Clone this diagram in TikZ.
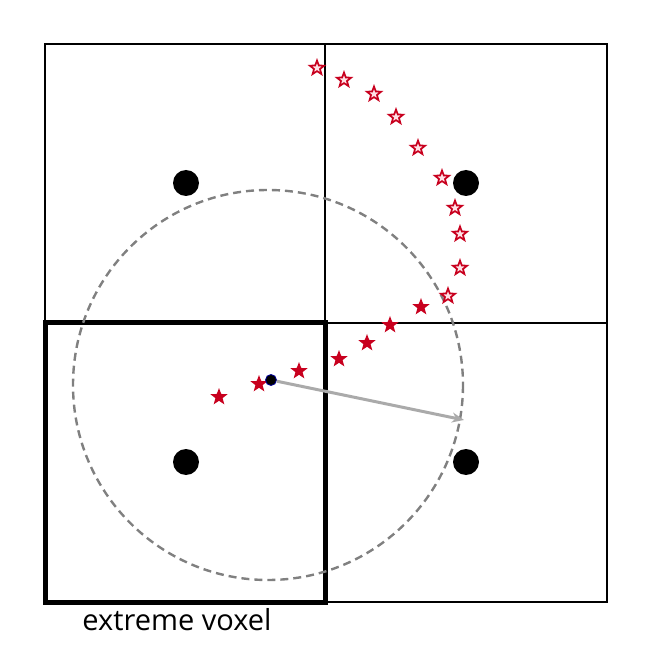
\documentclass[tikz,border=0pt]{standalone}
\usepackage{fontspec}
\setmainfont{Open Sans}
\usetikzlibrary{shapes.geometric,arrows.meta}
\definecolor{starred}{RGB}{200,0,30}
\definecolor{starpink}{RGB}{255,225,230}
\definecolor{dashgray}{RGB}{128,128,128}
\definecolor{arrowgray}{RGB}{170,170,170}
\tikzset{
  gridline/.style={line width=2pt, black},
  thickbox/.style={line width=5pt, black, line join=miter},
  bigdot/.style={circle, fill=black, inner sep=0pt, minimum size=26pt},
  hollowstar/.style={star, star points=5, star point ratio=2.4, draw=starred, fill=starpink, line width=1.7pt, inner sep=0pt, minimum size=15pt},
  fullstar/.style={star, star points=5, star point ratio=2.4, fill=starred, inner sep=0pt, minimum size=18pt},
  rangecircle/.style={dash pattern=on 8pt off 5pt, line width=2.4pt, dashgray},
  vecarrow/.style={line width=3pt, arrowgray, -{Stealth[length=12pt,width=10pt]}}
}
\begin{document}
\begin{tikzpicture}[x=1pt,y=-1pt]
\useasboundingbox (0,0) rectangle (657,650);
% grid
\draw[gridline] (45,44) rectangle (607,602);
\draw[gridline] (325,44) -- (325,602);
\draw[gridline] (45,323) -- (607,323);
\draw[thickbox] (45,323) rectangle (325,602);
% dots
\node[bigdot] (d1) at (186,183) {};
\node[bigdot] (d2) at (466,183) {};
\node[bigdot] (d3) at (186,462) {};
\node[bigdot] (d4) at (466,462) {};
% circle
\draw[rangecircle] (268,385) circle [radius=195];
% stars
\foreach \x/\y [count=\i] in {317/68,344/80,374/94,396/117,418/148,442/178,455/208,460/234,460/268,448/296}
  \node[hollowstar] (h\i) at (\x,\y) {};
\foreach \x/\y [count=\i] in {421/307,390/325,367/343,339/359,299/371,259/384,219/397}
  \node[fullstar] (f\i) at (\x,\y) {};
% center and arrow
\coordinate (tip) at (464,420);
\node[circle, fill=black, draw=blue!60!black, line width=0.8pt, inner sep=0pt, minimum size=11pt] (c) at (271,380) {};
\draw[vecarrow] (c) -- (tip);
\node[font=\fontsize{29}{33}\selectfont, anchor=base] (lbl) at (177,630) {extreme voxel};
\end{tikzpicture}
\end{document}
